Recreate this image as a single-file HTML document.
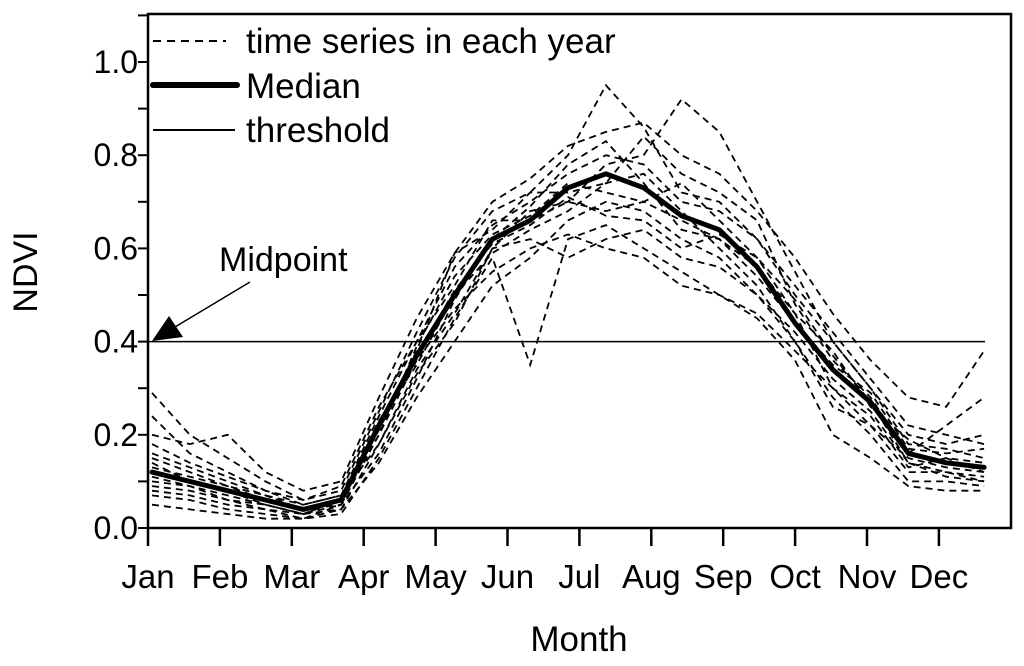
<!DOCTYPE html>
<html><head><meta charset="utf-8"><style>
body{margin:0;background:#fff;}
svg{display:block;font-family:"Liberation Sans",Arial,sans-serif;}
</style></head><body>
<svg id="chart" width="1024" height="666" viewBox="0 0 1024 666">
<g id="series"></g>
<g id="axes"></g>
</svg>
<script>
const months=["Jan","Feb","Mar","Apr","May","Jun","Jul","Aug","Sep","Oct","Nov","Dec"];
const yTicks=[0.0,0.2,0.4,0.6,0.8,1.0];
const threshold=0.4;
const median=[0.12,0.10,0.08,0.06,0.04,0.06,0.22,0.37,0.50,0.62,0.66,0.73,0.76,0.73,0.67,0.64,0.56,0.44,0.34,0.27,0.16,0.14,0.13];
const year1=[0.29,0.20,0.15,0.10,0.06,0.08,0.25,0.42,0.58,0.68,0.72,0.80,0.95,0.86,0.72,0.70,0.62,0.50,0.40,0.30,0.20,0.18,0.20];
const year2=[0.05,0.04,0.03,0.02,0.02,0.03,0.15,0.30,0.45,0.58,0.35,0.62,0.65,0.60,0.55,0.50,0.45,0.36,0.20,0.15,0.09,0.08,0.08];
const year3=[0.20,0.18,0.20,0.12,0.08,0.10,0.28,0.45,0.59,0.70,0.75,0.82,0.85,0.87,0.80,0.76,0.68,0.58,0.46,0.36,0.28,0.26,0.38];
const year4=[0.15,0.12,0.09,0.07,0.05,0.07,0.18,0.33,0.44,0.60,0.68,0.70,0.78,0.80,0.92,0.85,0.70,0.55,0.40,0.30,0.18,0.17,0.15];
const year5=[0.08,0.07,0.05,0.04,0.03,0.05,0.20,0.36,0.47,0.55,0.60,0.63,0.60,0.58,0.52,0.50,0.46,0.38,0.30,0.22,0.12,0.12,0.11];
const year6=[0.18,0.14,0.11,0.08,0.06,0.09,0.26,0.40,0.56,0.65,0.70,0.76,0.80,0.78,0.70,0.68,0.62,0.52,0.42,0.32,0.22,0.20,0.18];
const year7=[0.10,0.09,0.06,0.05,0.03,0.04,0.14,0.28,0.40,0.52,0.58,0.66,0.70,0.68,0.62,0.58,0.50,0.40,0.28,0.20,0.10,0.10,0.09];
const year8=[0.13,0.11,0.09,0.06,0.04,0.05,0.22,0.38,0.59,0.64,0.72,0.72,0.74,0.84,0.76,0.72,0.66,0.48,0.36,0.28,0.16,0.22,0.28];
const year9=[0.24,0.16,0.12,0.08,0.05,0.07,0.24,0.40,0.52,0.66,0.66,0.70,0.68,0.70,0.66,0.62,0.56,0.46,0.38,0.26,0.19,0.15,0.12];
const year10=[0.07,0.06,0.04,0.03,0.02,0.04,0.18,0.34,0.46,0.60,0.62,0.58,0.62,0.64,0.58,0.56,0.50,0.42,0.32,0.25,0.14,0.12,0.10];
const year11=[0.11,0.09,0.07,0.05,0.03,0.06,0.20,0.39,0.54,0.63,0.67,0.74,0.72,0.70,0.74,0.66,0.58,0.46,0.30,0.24,0.13,0.15,0.14];
const year12=[0.16,0.13,0.10,0.07,0.04,0.06,0.23,0.35,0.50,0.59,0.64,0.68,0.74,0.76,0.68,0.60,0.52,0.40,0.26,0.22,0.15,0.13,0.12];
const year13=[0.09,0.08,0.06,0.04,0.02,0.05,0.16,0.32,0.49,0.62,0.69,0.78,0.83,0.74,0.64,0.62,0.54,0.44,0.35,0.29,0.17,0.16,0.17];
const year14=[0.14,0.10,0.08,0.05,0.03,0.06,0.21,0.37,0.51,0.61,0.65,0.71,0.67,0.66,0.60,0.63,0.58,0.49,0.37,0.27,0.14,0.11,0.10];
const years=[year1,year2,year3,year4,year5,year6,year7,year8,year9,year10,year11,year12,year13,year14];

const X0=148,MW=71.9,Y0=528,YS=466;
const xM=m=>X0+m*MW;
const xI=i=>X0+4+i*16/365*12*MW;
const y=v=>Y0-v*YS;
const NS="http://www.w3.org/2000/svg";
function mk(tag,attrs,parent){const e=document.createElementNS(NS,tag);for(const k in attrs)e.setAttribute(k,attrs[k]);parent.appendChild(e);return e;}
const sg=document.getElementById('series'),ag=document.getElementById('axes');
const pts=a=>a.map((v,i)=>xI(i).toFixed(1)+","+y(v).toFixed(1)).join(" ");

years.forEach((s,k)=>{
  const p=mk('polyline',{points:pts(s),fill:"none",stroke:"#000","stroke-width":1.8,"stroke-dasharray":"7,5"},sg);
  
  
});
const med=mk('polyline',{points:pts(median),fill:"none",stroke:"#000","stroke-width":5,"stroke-linejoin":"round","stroke-linecap":"round"},sg);


const th=mk('line',{x1:X0,x2:985,y1:y(threshold),y2:y(threshold),stroke:"#000","stroke-width":1.5},sg);



const fr=mk('rect',{x:148,y:14,width:863,height:514,fill:"none",stroke:"#000","stroke-width":2.5},ag);


for(let v=0;v<=1.1001;v+=0.1){
  const t=mk('line',{x1:138,x2:148,y1:y(v),y2:y(v),stroke:"#000","stroke-width":2},ag);
  
  
}
yTicks.forEach(v=>{
  const t=mk('text',{x:138,y:y(v)+11,"text-anchor":"end","font-size":32},ag);t.textContent=v.toFixed(1);
  
  
});
months.forEach((m,i)=>{
  const t=mk('line',{x1:xM(i),x2:xM(i),y1:528,y2:546,stroke:"#000","stroke-width":2.5},ag);
  
  
  const l=mk('text',{x:xM(i),y:588,"text-anchor":"middle","font-size":33},ag);l.textContent=m;
  
  
});
const xt=mk('text',{x:579,y:651,"text-anchor":"middle","font-size":35},ag);xt.textContent="Month";


const yt=mk('text',{x:37,y:272,"text-anchor":"middle","font-size":34,transform:"rotate(-90 37 272)"},ag);yt.textContent="NDVI";


const lg=mk('g',{},ag);


mk('line',{x1:153,x2:226,y1:41,y2:41,stroke:"#000","stroke-width":2,"stroke-dasharray":"8,6"},lg);
mk('line',{x1:153,x2:237,y1:85,y2:85,stroke:"#000","stroke-width":6,"stroke-linecap":"round"},lg);
mk('line',{x1:153,x2:235,y1:130,y2:130,stroke:"#000","stroke-width":2},lg);
[["time series in each year",53],["Median",98],["threshold",142]].forEach(([s,yy])=>{
  const t=mk('text',{x:246,y:yy,"font-size":35},lg);t.textContent=s;
  
  
});
const an=mk('text',{x:219,y:271,"font-size":34},ag);an.textContent="Midpoint";


const ar=mk('line',{x1:250,x2:175,y1:282,y2:327,stroke:"#000","stroke-width":1.5},ag);


const ah=mk('polygon',{points:"152,341 169,316 183,337",fill:"#000"},ag);


</script>
</body></html>
